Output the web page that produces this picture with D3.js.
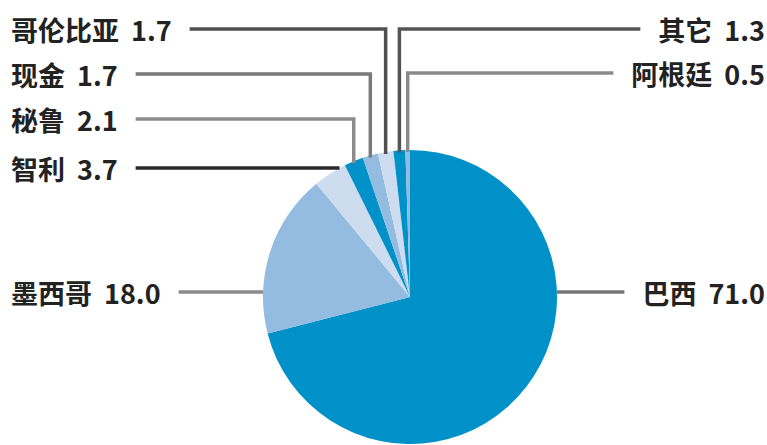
<!DOCTYPE html>
<html>
<head>
<meta charset="utf-8">
<script src="https://cdn.jsdelivr.net/npm/d3@7"></script>
<style>
  body { margin: 0; background: #fff; }
  text { font-family: "Noto Sans CJK SC", sans-serif; font-size: 27px; font-weight: 700; fill: #222; }
</style>
</head>
<body>
<div id="chart"></div>
<script>
// 数据 (顺时针, 从12点开始)
var names  = ["巴西", "墨西哥", "智利", "秘鲁", "现金", "哥伦比亚", "其它", "阿根廷"];
var values = [71.0, 18.0, 3.7, 2.1, 1.7, 1.7, 1.3, 0.5];
var labels = ["71.0", "18.0", "3.7", "2.1", "1.7", "1.7", "1.3", "0.5"];

// 标签版面
var side   = ["right", "left", "left", "left", "left", "left", "right", "right"];
var labelY = [292, 292, 168, 119, 74, 29, 29, 73];
var lineColor = ["#777", "#8a8a8a", "#2a2a2a", "#8c8c8c", "#7a7a7a", "#505050", "#555", "#8a8a8a"];
var colors = ["#0091c8", "#93bce0", "#cddcee"];

var width = 767, height = 445;
var cx = 410, cy = 297, r = 147;
var gap = 18;

var svg = d3.select("#chart").append("svg").attr("width", width).attr("height", height);

var dataset = names.map(function (d, i) { return { name: d, value: values[i], label: labels[i], i: i }; });

var pie = d3.pie().sort(null).value(function (d) { return d.value; });
var arc = d3.arc().innerRadius(0).outerRadius(r);
var arcs = pie(dataset);

var g = svg.append("g").attr("transform", "translate(" + cx + "," + cy + ")");
g.selectAll("path")
  .data(arcs)
  .enter()
  .append("path")
  .attr("d", arc)
  .attr("fill", function (d) { return colors[d.index % 3]; });

// 标签
var lines = svg.append("g");
var texts = svg.append("g");

arcs.forEach(function (a, i) {
  var y = labelY[i];
  var t = texts.append("text")
    .attr("y", y)
    .attr("dominant-baseline", "central");
  t.append("tspan").text(a.data.name);
  t.append("tspan").attr("dx", 12).text(a.data.label);

  var isLeft = side[i] === "left";
  var bb;
  if (isLeft) {
    t.attr("x", 11);
  } else {
    t.attr("text-anchor", "end").attr("x", 765);
  }
  bb = t.node().getBBox();

  var mid = (a.startAngle + a.endAngle) / 2;
  var px = r * Math.sin(mid);
  var pts;
  var dy = y - cy;
  var edgeX = Math.sqrt(Math.max(0, r * r - dy * dy));
  if (Math.abs(dy) < r && (Math.abs(px) > edgeX - 1 || Math.abs(dy) < 30)) {
    // 水平线直接到圆边
    var x1 = isLeft ? bb.x + bb.width + gap : bb.x - gap;
    var x2 = isLeft ? -edgeX : edgeX;
    pts = [[x1, y], [cx + x2, y]];
  } else {
    var x1b = isLeft ? bb.x + bb.width + gap : bb.x - gap;
    var vx = cx + px;
    var vy = cy - Math.sqrt(r * r - px * px);
    pts = [[x1b, y], [vx, y], [vx, vy + 2]];
  }
  lines.append("path")
    .attr("d", d3.line()(pts))
    .attr("fill", "none")
    .attr("stroke", lineColor[i])
    .attr("stroke-width", 3.5);
});
</script>
</body>
</html>
